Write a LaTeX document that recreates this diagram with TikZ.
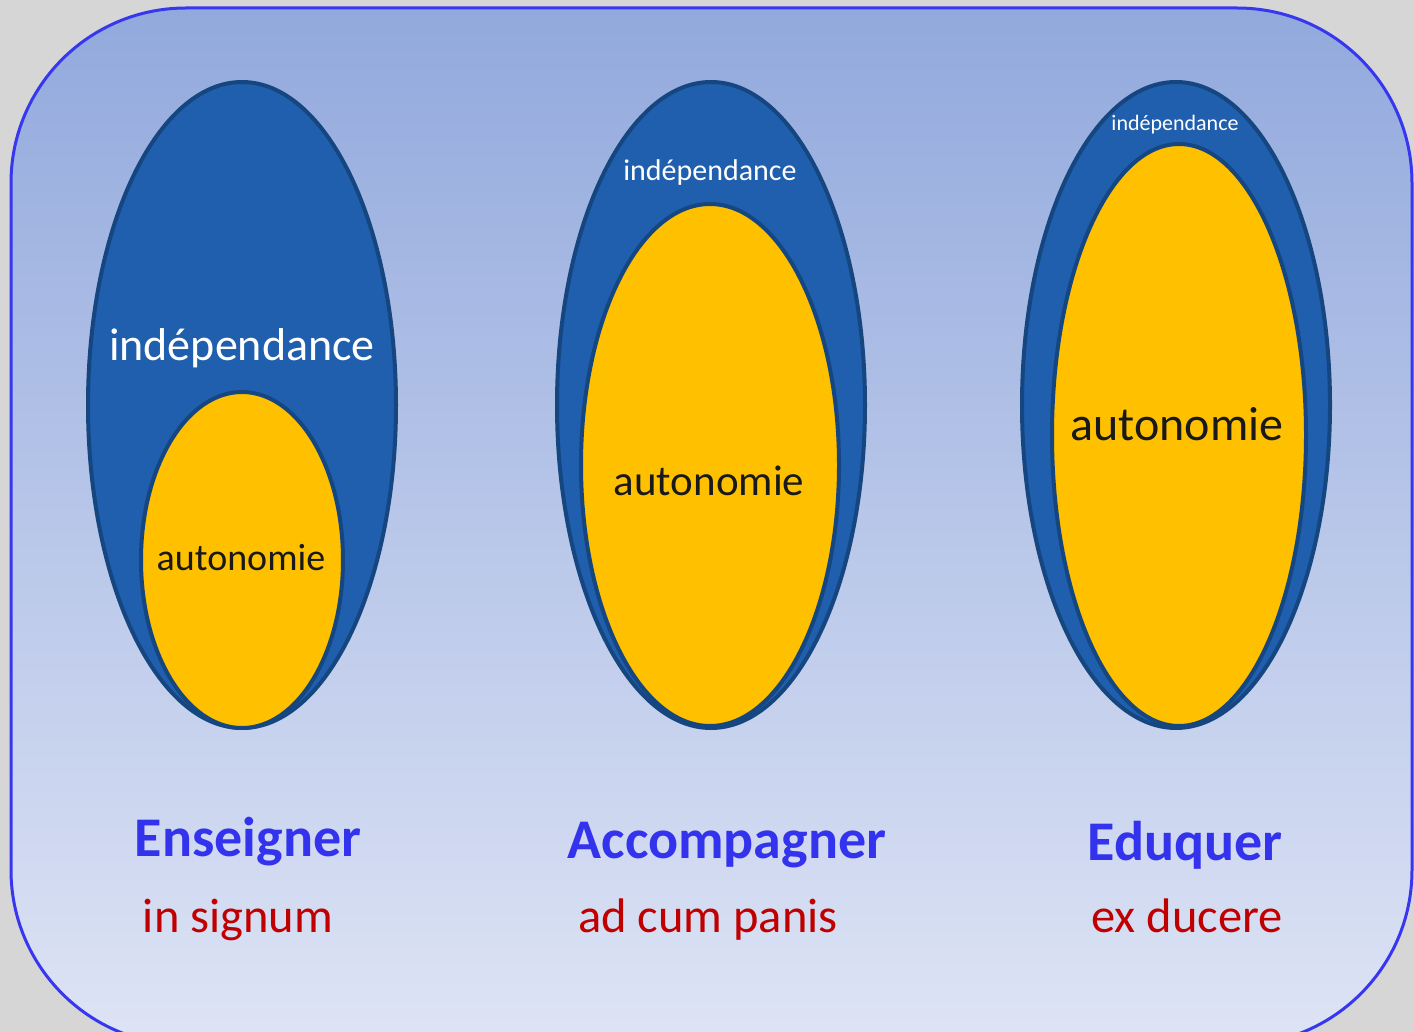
\documentclass[tikz,border=0pt]{standalone}
\usepackage{fontspec}
\setmainfont{Carlito}
\definecolor{bggray}{RGB}{214,214,214}
\definecolor{paneltop}{RGB}{146,169,221}
\definecolor{panelbot}{RGB}{222,228,245}
\definecolor{panelline}{RGB}{55,55,240}
\definecolor{bluefill}{RGB}{31,95,174}
\definecolor{blueline}{RGB}{22,70,128}
\definecolor{yellowfill}{RGB}{255,192,0}
\definecolor{titleblue}{RGB}{51,51,238}
\definecolor{latinred}{RGB}{192,0,0}
\begin{document}
\begin{tikzpicture}[x=1pt,y=-1pt,
  outer/.style={draw=blueline,fill=bluefill,line width=4pt},
  inner/.style={draw=blueline,fill=yellowfill,line width=4pt},
  indep/.style={text=white,inner sep=0pt},
  auto/.style={text=black!90,inner sep=0pt},
  title/.style={text=titleblue,font=\bfseries\fontsize{56}{66}\selectfont,inner sep=0pt,anchor=base},
  latin/.style={text=latinred,font=\fontsize{48.5}{58}\selectfont,inner sep=0pt,anchor=base}]
\useasboundingbox (0,0) rectangle (1414,1032);
\fill[bggray] (0,0) rectangle (1414,1032);
\begin{scope}
\clip (0,0) rectangle (1414,1032);
\shade[top color=paneltop,bottom color=panelbot,draw=panelline,line width=3pt,rounded corners=175pt]
  (11,8) rectangle (1412,1045);
\end{scope}
% column 1
\filldraw[outer] (242,405) ellipse [x radius=154, y radius=323];
\filldraw[inner] (242,560) ellipse [x radius=101, y radius=168];
\node[indep,font=\fontsize{46}{55}\selectfont] (i1) at (242,348) {indépendance};
\node[auto,font=\fontsize{38}{45}\selectfont] (a1) at (241,558) {autonomie};
% column 2
\filldraw[outer] (711,405) ellipse [x radius=154, y radius=323];
\filldraw[inner] (710,465) ellipse [x radius=129, y radius=261];
\node[indep,font=\fontsize{30}{36}\selectfont] (i2) at (710,173) {indépendance};
\node[auto,font=\fontsize{43}{51}\selectfont] (a2) at (709,481) {autonomie};
% column 3
\filldraw[outer] (1176,405) ellipse [x radius=154, y radius=323];
\filldraw[inner] (1179,435) ellipse [x radius=127, y radius=291];
\node[indep,font=\fontsize{22}{26}\selectfont] (i3) at (1175,125) {indépendance};
\node[auto,font=\fontsize{48}{57}\selectfont] (a3) at (1177,424) {autonomie};
% labels
\node[title] (t1) at (248,856) {Enseigner};
\node[latin] (l1) at (238,932) {in signum};
\node[title] (t2) at (727,858) {Accompagner};
\node[latin] (l2) at (708,932) {ad cum panis};
\node[title] (t3) at (1185,860) {Eduquer};
\node[latin] (l3) at (1187,932) {ex ducere};
\end{tikzpicture}
\end{document}
